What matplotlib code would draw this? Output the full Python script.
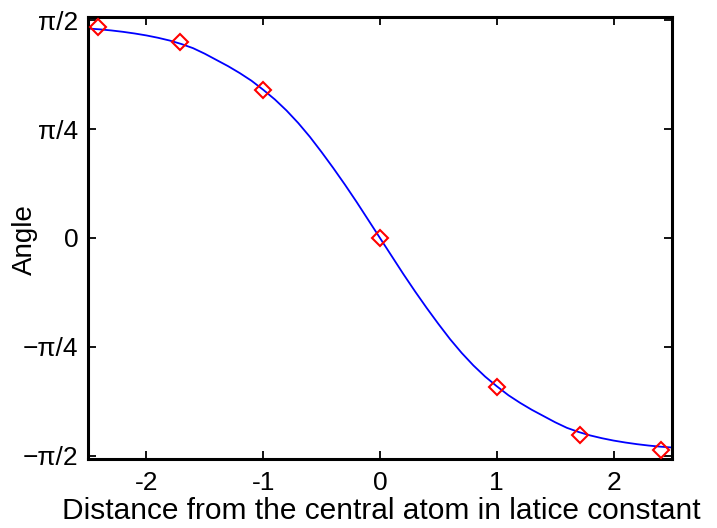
import numpy as np
import matplotlib
matplotlib.use("Agg")
import matplotlib.pyplot as plt

plt.rcParams["font.family"] = ["Liberation Sans", "DejaVu Sans"]

# sampled points (red diamonds)
site_x = [-2.41, -1.71, -1.0, 0.0, 1.0, 1.71, 2.41]
site_angle = [1.522, 1.414, 1.068, 0.0, -1.072, -1.424, -1.528]

# continuum profile
curve_x = [-2.5, -2.4, -2.3, -2.2, -2.1, -2.0, -1.9, -1.8, -1.7, -1.6,
           -1.5, -1.4, -1.3, -1.2, -1.1, -1.0, -0.9, -0.8, -0.7, -0.6,
           -0.5, -0.4, -0.3, -0.2, -0.1, 0.0, 0.1, 0.2, 0.3, 0.4,
           0.5, 0.6, 0.7, 0.8, 0.9, 1.0, 1.1, 1.2, 1.3, 1.4,
           1.5, 1.6, 1.7, 1.8, 1.9, 2.0, 2.1, 2.2, 2.3, 2.4, 2.5]
curve_angle = [1.512, 1.506, 1.498, 1.488, 1.476, 1.462, 1.445, 1.425, 1.40, 1.37,
               1.33, 1.285, 1.24, 1.19, 1.135, 1.07, 1.0, 0.92, 0.83, 0.73,
               0.62, 0.505, 0.385, 0.26, 0.13, 0.0, -0.13, -0.26, -0.385, -0.505,
               -0.62, -0.73, -0.83, -0.92, -1.0, -1.07, -1.135, -1.19, -1.24, -1.285,
               -1.33, -1.37, -1.40, -1.425, -1.445, -1.462, -1.476, -1.488, -1.498, -1.506, -1.512]

x_ticks = [-2, -1, 0, 1, 2]
x_tick_labels = ["-2", "-1", "0", "1", "2"]
y_ticks = [-np.pi / 2, -np.pi / 4, 0, np.pi / 4, np.pi / 2]
y_tick_labels = ["\u2212\u03c0/2", "\u2212\u03c0/4", "0", "\u03c0/4", "\u03c0/2"]

fig = plt.figure(figsize=(7.17, 5.28), dpi=100)
ax = fig.add_axes([0.1227, 0.1307, 0.8145, 0.8371])

ax.plot(curve_x, curve_angle, color="#0000ff", linewidth=1.3, zorder=2)
ax.plot(site_x, site_angle, linestyle="none", marker="D", markersize=7.8,
        markerfacecolor="none", markeredgecolor="#ff0000", markeredgewidth=1.5,
        zorder=3, clip_on=False)

ax.set_xlim(-2.5, 2.5)
ax.set_ylim(-1.595, 1.595)
ax.set_xticks(x_ticks)
ax.set_xticklabels(x_tick_labels)
ax.set_yticks(y_ticks)
ax.set_yticklabels(y_tick_labels)

ax.tick_params(direction="in", top=True, right=True, length=6, width=1.3,
               labelsize=19)
ax.tick_params(axis="x", pad=9)
ax.tick_params(axis="y", pad=7)
for s in ax.spines.values():
    s.set_linewidth(2.2)

# axis titles placed by hand, gnuplot style
fig.text(381 / 717, 1 - 519 / 528, "Distance from the central atom in latice constant",
         fontsize=21.5, ha="center", va="baseline")
fig.text(25 / 717, 1 - 240 / 528, "Angle", fontsize=20, rotation=90,
         ha="center", va="center")

fig.savefig("out.png", dpi=100, facecolor="white")
